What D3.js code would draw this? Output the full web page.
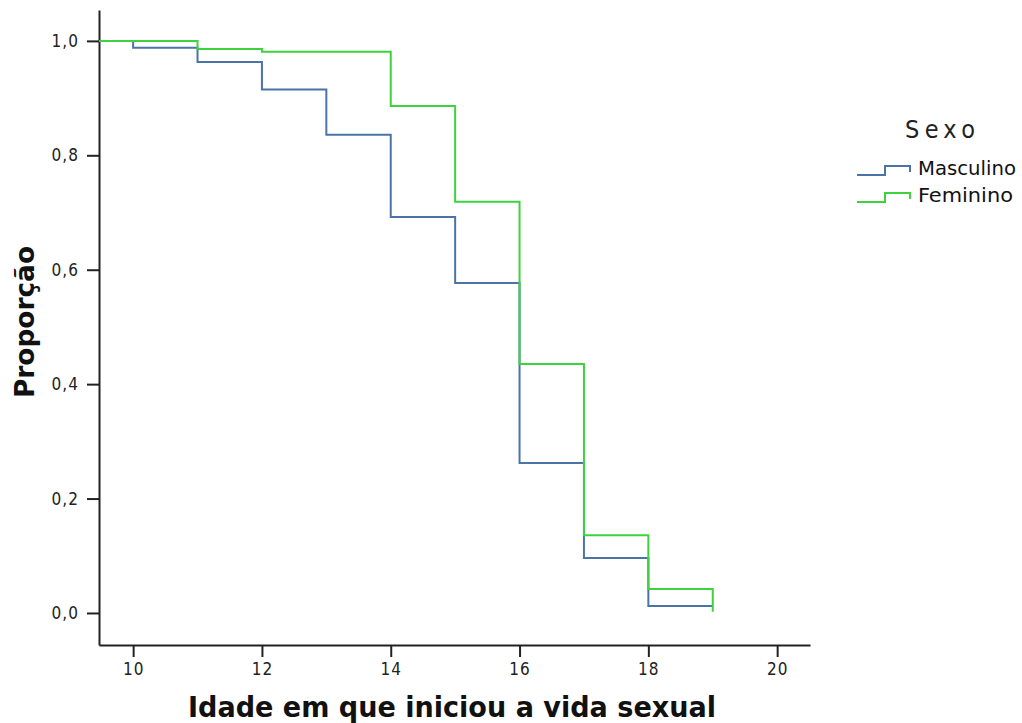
<!DOCTYPE html>
<html>
<head>
<meta charset="utf-8">
<script src="https://cdn.jsdelivr.net/npm/d3@7"></script>
<style>
  html, body { margin: 0; padding: 0; background: #fff; }
  svg { display: block; }
</style>
</head>
<body>
<svg id="chart" width="1022" height="723"></svg>
<script>
// ---- data ----
const xDomain = [9.47, 20.51];
const yDomain = [-0.056, 1.054];
const xTicks = [10, 12, 14, 16, 18, 20];
const yTicks = [0, 0.2, 0.4, 0.6, 0.8, 1.0];
const seriesNames = ["Masculino", "Feminino"];
const masculinoAges = [10, 11, 12, 13, 14, 15, 16, 17, 18, 19];
const masculinoProp = [0.988, 0.963, 0.915, 0.836, 0.692, 0.577, 0.262, 0.096, 0.012, 0.012];
const femininoAges = [11, 12, 14, 15, 16, 17, 18, 19];
const femininoProp = [0.986, 0.981, 0.886, 0.719, 0.435, 0.136, 0.042, 0.002];
const colors = ["#4a74a8", "#3fd23f"];
const xTitle = "Idade em que iniciou a vida sexual";
const yTitle = "Proporção";
const legendTitle = "Sexo";

const svg = d3.select("#chart");
const x = d3.scaleLinear().domain(xDomain).range([99, 810]);
const y = d3.scaleLinear().domain(yDomain).range([645, 10]);
const fmt = d => d3.format(".1f")(d).replace(".", ",");

const font = '"Liberation Sans Narrow", "DejaVu Sans Condensed", "Liberation Sans", sans-serif';

// axes
const gx = svg.append("g").attr("transform", `translate(0,${y(yDomain[0])})`)
  .call(d3.axisBottom(x).tickValues(xTicks).tickSize(12).tickSizeOuter(0).tickFormat(d3.format("d")));
const gy = svg.append("g").attr("transform", `translate(${x(xDomain[0])},0)`)
  .call(d3.axisLeft(y).tickValues(yTicks).tickSize(12).tickSizeOuter(0).tickFormat(fmt));
[gx, gy].forEach(g => {
  g.attr("font-family", font).attr("font-size", 17);
  g.select(".domain").attr("stroke", "#222").attr("stroke-width", 2);
  g.selectAll(".tick line").attr("stroke", "#222").attr("stroke-width", 2);
  g.selectAll(".tick text").attr("fill", "#222").style("letter-spacing", "1px");
});
gx.selectAll(".tick text").attr("dy", "0.9em");
gy.selectAll(".tick text").attr("dx", "-0.3em");

// step lines
const line = d3.line().x(d => x(d[0])).y(d => y(d[1])).curve(d3.curveStepAfter);
const series = [
  [[xDomain[0], 1]].concat(masculinoAges.map((a, i) => [a, masculinoProp[i]])),
  [[xDomain[0], 1]].concat(femininoAges.map((a, i) => [a, femininoProp[i]]))
];
series.forEach((s, i) => {
  svg.append("path").attr("d", line(s)).attr("fill", "none")
    .attr("stroke", colors[i]).attr("stroke-width", 2);
});

// axis titles
svg.append("text").attr("x", 452).attr("y", 717).attr("text-anchor", "middle")
  .attr("font-family", font).attr("font-weight", "bold").attr("font-size", 28)
  .attr("textLength", 528).attr("lengthAdjust", "spacingAndGlyphs")
  .attr("fill", "#111").text(xTitle);
svg.append("text").attr("transform", "translate(34,322) rotate(-90)").attr("text-anchor", "middle")
  .attr("font-family", font).attr("font-weight", "bold").attr("font-size", 26)
  .attr("textLength", 152).attr("lengthAdjust", "spacingAndGlyphs")
  .attr("fill", "#111").text(yTitle);

// legend
svg.append("text").attr("x", 905).attr("y", 138)
  .attr("font-family", font).attr("font-size", 25)
  .attr("textLength", 70).attr("lengthAdjust", "spacing")
  .attr("fill", "#222").text(legendTitle);
const legY = [170, 197];
seriesNames.forEach((n, i) => {
  const yy = legY[i];
  svg.append("path")
    .attr("d", `M857,${yy + 5}H885V${yy - 4}H910V${yy + 2}`)
    .attr("fill", "none").attr("stroke", colors[i]).attr("stroke-width", 2);
  svg.append("text").attr("x", 918).attr("y", yy + 5)
    .attr("font-family", font).attr("font-size", 19)
    .attr("textLength", i === 0 ? 98 : 95).attr("lengthAdjust", "spacingAndGlyphs")
    .attr("fill", "#111").text(n);
});
</script>
</body>
</html>
